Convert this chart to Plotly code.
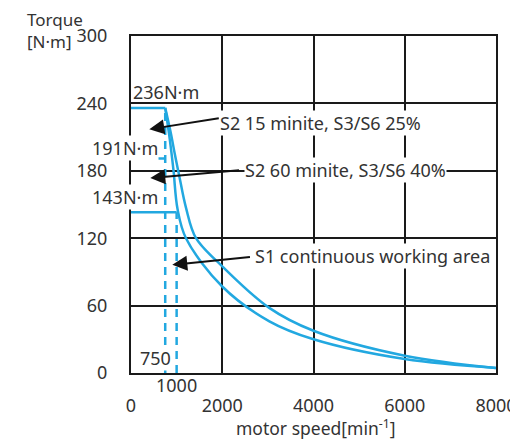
import plotly.graph_objects as go

# ---------------- data ----------------
x_ticks = [0, 2000, 4000, 6000, 8000]
y_ticks = [0, 60, 120, 180, 240, 300]

# S2 15 min / S3-S6 25% curve (outer)
outer_speed = [750, 870, 960, 1060, 1206, 1425, 2000, 3030, 4000, 6000, 8000]
outer_torque = [236, 214, 195, 175, 147, 120, 95, 58, 37.6, 15.4, 4.5]

# S2 60 min / S3-S6 40% curve (inner)
inner_speed = [750, 850, 930, 1020, 1205, 2000, 3033, 4000, 6000, 8000]
inner_torque = [236, 208, 181, 146, 120, 77, 46, 30, 12.4, 4.5]

# flat torque limits
peak_speed = [0, 750]
peak_torque = [236, 236]
s2_speed = [0, 750]
s2_torque = [191, 191]
s1_speed = [0, 1000]
s1_torque = [143, 143]

# dashed speed markers
dash750_speed = [750, 750]
dash750_torque = [0, 236]
dash1000_speed = [1000, 1000]
dash1000_torque = [0, 143]

BLUE = "#22a8e0"
TXT = "#333333"
FONT = "Noto Sans"
FS = 18

fig = go.Figure()

def line(xs, ys, dash=None, shape="linear"):
    fig.add_trace(go.Scatter(
        x=xs, y=ys, mode="lines",
        line=dict(color=BLUE, width=2.5, dash=dash, shape=shape),
        showlegend=False, hoverinfo="skip", cliponaxis=False))

line(outer_speed, outer_torque, shape="spline")
line(inner_speed, inner_torque, shape="spline")
line(peak_speed, peak_torque)
line(s2_speed, s2_torque)
line(s1_speed, s1_torque)
line(dash750_speed, dash750_torque, dash="8px,6px")
line(dash1000_speed, dash1000_torque, dash="8px,6px")

annotations = []

def arrow(tip, tail):
    annotations.append(dict(
        x=tip[0], y=tip[1], ax=tail[0], ay=tail[1],
        xref="x", yref="y", axref="x", ayref="y",
        text="", showarrow=True, arrowhead=2, arrowsize=1.5,
        arrowwidth=2, arrowcolor="#111111"))

def label(x, y, text, xanchor="left", bg="white", yref="y"):
    annotations.append(dict(
        x=x, y=y, xref="x", yref=yref, text=text, showarrow=False,
        xanchor=xanchor, yanchor="middle",
        font=dict(family=FONT, size=FS, color=TXT),
        bgcolor=bg, borderpad=0))

arrow((401, 217), (1957, 227))
arrow((423, 173.6), (2400, 180.7))
arrow((905, 96.3), (2640, 103.4))

label(1935, 223, "S2 15 minite, S3/S6 25%")
label(2466, 180.7, "S2 60 minite, S3/S6 40%")
label(2706, 104.3, "S1 continuous working area")
label(30, 250, "236N·m", bg="rgba(0,0,0,0)")
label(610, 200.3, "191N·m", xanchor="right")
label(610, 156.7, "143N·m", xanchor="right")
label(543, 13.6, "750", xanchor="center")
label(993, -0.035, "1000", xanchor="center", bg="rgba(0,0,0,0)", yref="paper")

annotations.append(dict(
    x=-0.29, y=1.09, xref="paper", yref="paper", xanchor="left", yanchor="top",
    align="left", text="Torque<br>[N·m]", showarrow=False,
    font=dict(family=FONT, size=17, color=TXT)))

annotations.append(dict(
    x=0.505, y=-0.163, xref="paper", yref="paper", xanchor="center", yanchor="middle",
    text="motor speed[min<sup>-1</sup>]", showarrow=False,
    font=dict(family=FONT, size=17.5, color=TXT)))

# page has an 8px body margin, so the figure is sized/offset to place the plot
fig.update_layout(
    width=510, height=433,
    margin=dict(l=123, r=22, t=28, b=68, autoexpand=False),
    paper_bgcolor="white", plot_bgcolor="white",
    font=dict(family=FONT, size=18, color=TXT),
    annotations=annotations,
    xaxis=dict(
        range=[0, 8000], tickvals=x_ticks, ticktext=[str(v) for v in x_ticks],
        showgrid=True, gridcolor="#1a1a1a", gridwidth=2,
        showline=True, linecolor="#1a1a1a", linewidth=2, mirror=True,
        zeroline=False, ticks="", ticklabelstandoff=15, automargin=False,
        tickfont=dict(family=FONT, size=18, color=TXT)),
    yaxis=dict(
        range=[0, 300], tickvals=y_ticks, ticktext=[str(v) for v in y_ticks],
        showgrid=True, gridcolor="#1a1a1a", gridwidth=2,
        showline=True, linecolor="#1a1a1a", linewidth=2, mirror=True,
        zeroline=False, ticks="", ticklabelstandoff=18, automargin=False,
        tickfont=dict(family=FONT, size=18, color=TXT)),
)

fig.write_html("out.html")
